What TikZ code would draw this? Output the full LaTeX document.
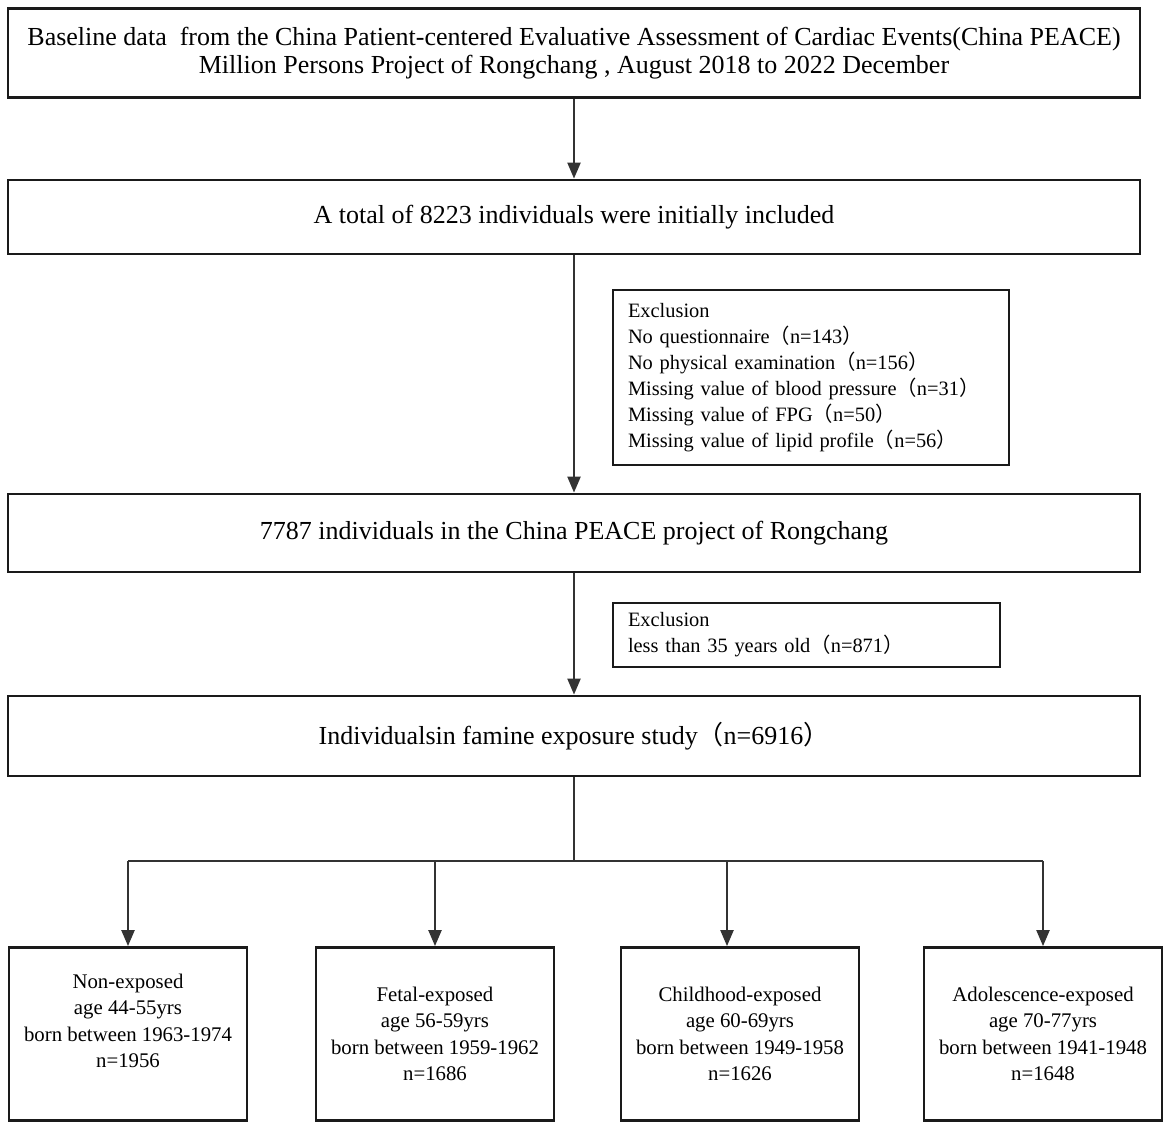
\documentclass[tikz,border=0pt]{standalone}
\usepackage{fontspec}
\setmainfont{Liberation Serif}
\newfontfamily\cjk{Noto Sans CJK SC}
\usetikzlibrary{arrows.meta}
\newcommand{\lpar}{{\cjk （}}
\newcommand{\rpar}{{\cjk ）}}
\definecolor{linegray}{HTML}{333333}
\definecolor{boxblack}{HTML}{1A1A1A}
\begin{document}
\begin{tikzpicture}[x=1pt,y=-1pt,
    box/.style={draw=boxblack, line width=2.8pt, inner sep=0pt},
    mainbox/.style={box, minimum width=1132pt, font=\fontsize{26}{28}\selectfont},
    exclbox/.style={box, inner xsep=15pt, align=left, font=\fontsize{20.4}{26}\selectfont},
    groupbox/.style={box, minimum width=238pt, minimum height=173pt, align=center, font=\fontsize{20.8}{26.3}\selectfont},
    conn/.style={draw=linegray, line width=2.2pt},
    arr/.style={conn, -{Triangle[length=16pt,width=13pt,fill=linegray]}}]
  \useasboundingbox (0,0) rectangle (1170,1128);
  \node[mainbox, minimum height=89pt, align=center] (D) at (574,53)
    {Baseline data\ \ from the China Patient-centered Evaluative Assessment of Cardiac Events(China PEACE)\\
     Million Persons Project of Rongchang , August 2018 to 2022 December};
  \node[mainbox, minimum height=74pt] (T) at (574,217) {A total of 8223 individuals were initially included};
  \node[exclbox, text width=366pt, minimum height=175pt] (X1) at (811,377.5)
    {Exclusion\\
     No questionnaire\lpar n=143\rpar\\
     No physical examination\lpar n=156\rpar\\
     Missing value of blood pressure\lpar n=31\rpar\\
     Missing value of FPG\lpar n=50\rpar\\
     Missing value of lipid profile\lpar n=56\rpar};
  \node[mainbox, minimum height=78pt] (P) at (574,533) {7787 individuals in the China PEACE project of Rongchang};
  \node[exclbox, text width=357pt, minimum height=64pt] (X2) at (806.5,635)
    {Exclusion\\
     less than 35 years old\lpar n=871\rpar};
  \node[mainbox, minimum height=80pt] (S) at (574,736) {Individualsin famine exposure study\lpar n=6916\rpar};
  % exposure groups
  \node[groupbox] (G1) at (128,1034) {Non-exposed\\age 44-55yrs\\born between 1963-1974\\n=1956\\\mbox{}};
  \node[groupbox] (G2) at (435,1034) {Fetal-exposed\\age 56-59yrs\\born between 1959-1962\\n=1686};
  \node[groupbox] (G3) at (740,1034) {Childhood-exposed\\age 60-69yrs\\born between 1949-1958\\n=1626};
  \node[groupbox] (G4) at (1043,1034) {Adolescence-exposed\\age 70-77yrs\\born between 1941-1948\\n=1648};
  \coordinate (split) at (574,861);
  \coordinate (G3in) at ([xshift=-13pt]G3.north);
  \draw[arr] (D.south) -- (T.north);
  \draw[arr] (T.south) -- (P.north);
  \draw[arr] (P.south) -- (S.north);
  \draw[conn] (S.south) -- (split);
  \draw[conn] (G1.north |- split) -- (G4.north |- split);
  \draw[arr] (G1.north |- split) -- (G1.north);
  \draw[arr] (G2.north |- split) -- (G2.north);
  \draw[arr] (G3in |- split) -- (G3in);
  \draw[arr] (G4.north |- split) -- (G4.north);
\end{tikzpicture}
\end{document}
